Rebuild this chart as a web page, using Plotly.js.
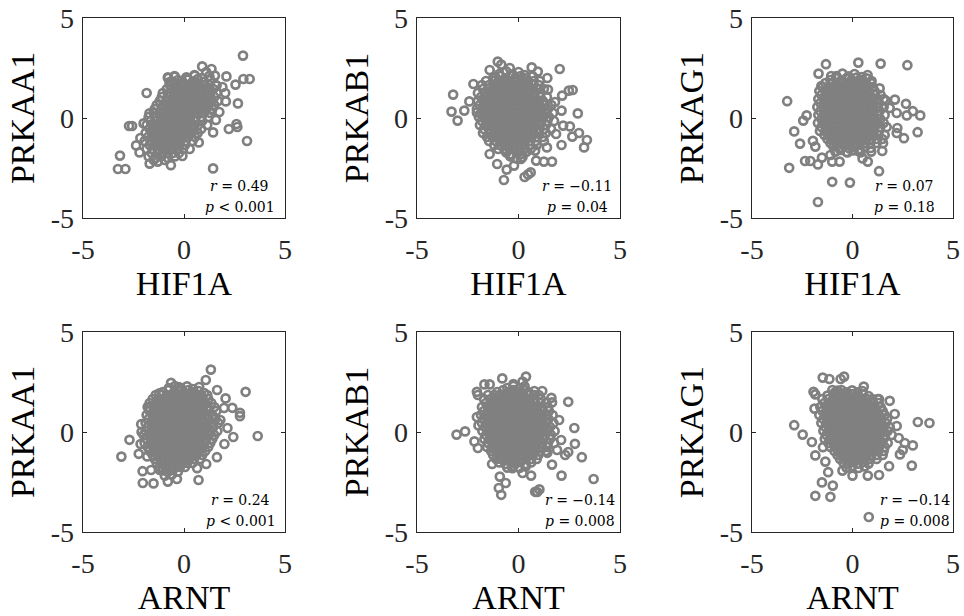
<!DOCTYPE html>
<html>
<head>
<meta charset="utf-8">
<script src="https://cdn.plot.ly/plotly-3.0.1.min.js"></script>
<style>html,body{margin:0;padding:0;background:#fff;}#chart{width:964px;height:616px;}</style>
</head>
<body>
<div id="chart"></div>
<script>
// Axis names per panel (row-major: top row HIF1A, bottom row ARNT)
const xNames = ['HIF1A', 'HIF1A', 'HIF1A', 'ARNT', 'ARNT', 'ARNT'];
const yNames = ['PRKAA1', 'PRKAB1', 'PRKAG1', 'PRKAA1', 'PRKAB1', 'PRKAG1'];
const rValues = ['0.49', '\u22120.11', '0.07', '0.24', '\u22120.14', '\u22120.14'];
const pValues = ['&lt; 0.001', '= 0.04', '= 0.18', '&lt; 0.001', '= 0.008', '= 0.008'];
const tickVals = [-5, 0, 5];
const tickText = ['-5', '0', '5'];

// Dense core of each cloud, read row by row: [y, x, x, ...]
const core1 = [
  [1.65, -0.7, -0.45, -0.2, 0.04, 0.28, 0.52, 0.76, 1.0, 1.25, 1.58],
  [1.45, -0.85, -0.52, -0.28, -0.03, 0.21, 0.45, 0.69, 0.93, 1.17, 1.45],
  [1.25, -1.05, -0.66, -0.4, -0.16, 0.08, 0.32, 0.56, 0.8, 1.04, 1.28, 1.62],
  [1.05, -1.1, -0.8, -0.52, -0.28, -0.04, 0.2, 0.44, 0.68, 0.92, 1.16, 1.5],
  [0.85, -1.2, -0.86, -0.62, -0.38, -0.14, 0.1, 0.34, 0.58, 0.82, 1.06, 1.32, 1.68],
  [0.65, -1.35, -1.0, -0.74, -0.5, -0.26, -0.02, 0.22, 0.46, 0.7, 0.94, 1.22, 1.5],
  [0.45, -1.45, -1.1, -0.85, -0.61, -0.37, -0.13, 0.11, 0.35, 0.59, 0.83, 1.1, 1.4],
  [0.25, -1.5, -1.22, -0.98, -0.74, -0.5, -0.26, -0.02, 0.22, 0.46, 0.7, 0.98, 1.3],
  [0.05, -1.75, -1.38, -1.12, -0.88, -0.64, -0.4, -0.16, 0.08, 0.32, 0.56, 0.85, 1.2],
  [-0.15, -1.65, -1.4, -1.16, -0.92, -0.68, -0.44, -0.2, 0.04, 0.28, 0.55, 0.9],
  [-0.35, -1.85, -1.55, -1.28, -1.04, -0.8, -0.56, -0.32, -0.08, 0.16, 0.4, 0.7, 1.15],
  [-0.55, -1.7, -1.46, -1.22, -0.98, -0.74, -0.5, -0.26, -0.02, 0.22, 0.5, 0.85],
  [-0.75, -1.9, -1.58, -1.34, -1.1, -0.86, -0.62, -0.38, -0.14, 0.1, 0.36, 0.68],
  [-0.95, -1.78, -1.5, -1.26, -1.02, -0.78, -0.54, -0.3, -0.06, 0.2, 0.55],
  [-1.15, -1.95, -1.62, -1.38, -1.14, -0.9, -0.66, -0.42, -0.18, 0.08, 0.42],
  [-1.35, -1.7, -1.44, -1.2, -0.96, -0.72, -0.48, -0.24, 0.05],
  [-1.55, -1.85, -1.55, -1.3, -1.06, -0.82, -0.58, -0.32, -0.05],
  [-1.75, -1.6, -1.3, -1.05, -0.8, -0.55, -0.25]
];
// Scattered points around the core: [x, y]
const outer1 = [
  [-0.78, 2.0], [-0.47, 2.1], [0.12, 2.0], [0.52, 2.15], [0.88, 2.0], [1.25, 2.1],
  [-0.6, 1.82], [-0.3, 1.9], [-0.05, 1.78], [0.2, 1.92], [0.45, 1.83], [0.68, 1.95], [0.95, 1.8], [1.3, 1.9],
  [-1.75, -1.92], [-1.4, -2.0], [-1.1, -1.9], [-0.8, -2.0], [-0.45, -1.92], [-1.3, -2.18], [-0.95, -2.1],
  [2.92, 3.12], [0.9, 2.58], [1.36, 2.45], [2.1, 2.08], [2.94, 1.95], [3.25, 1.95], [2.55, 1.67],
  [-1.85, 1.25], [2.04, 1.25], [2.67, 0.73], [2.07, 0.83], [1.58, -0.1], [2.6, -0.3], [2.64, -0.45],
  [2.22, -0.55], [1.44, -0.72], [3.12, -1.15], [-2.57, -0.4], [-2.72, -0.4], [-2.0, -0.27],
  [-1.71, 0.23], [-2.16, -1.0], [-2.37, -1.37], [-2.2, -1.72], [-3.17, -1.88], [-3.27, -2.55],
  [-2.9, -2.55], [-1.7, -2.28], [-0.65, -2.36], [-0.08, -1.9], [0.28, -1.55], [0.73, -1.22],
  [1.44, -2.52], [-0.8, 2.03], [-0.46, 2.07], [-0.72, 1.8], [0.12, 2.03], [0.53, 2.12],
  [1.53, 2.12], [1.61, 1.62], [1.1, 2.3], [1.9, 1.55], [1.75, 0.3], [-1.5, -2.1]
];

const core2 = [
  [1.85, -1.6, -1.22, -0.98, -0.74, -0.5, -0.26, -0.02, 0.22, 0.46, 0.75, 1.05],
  [1.65, -1.8, -1.45, -1.2, -0.96, -0.72, -0.48, -0.24, 0.0, 0.24, 0.48, 0.72, 1.0],
  [1.45, -1.75, -1.5, -1.26, -1.02, -0.78, -0.54, -0.3, -0.06, 0.18, 0.42, 0.66, 0.92, 1.25],
  [1.25, -2.0, -1.62, -1.38, -1.14, -0.9, -0.66, -0.42, -0.18, 0.06, 0.3, 0.54, 0.78, 1.05],
  [1.05, -1.85, -1.6, -1.36, -1.12, -0.88, -0.64, -0.4, -0.16, 0.08, 0.32, 0.56, 0.8, 1.08, 1.4],
  [0.85, -2.0, -1.72, -1.48, -1.24, -1.0, -0.76, -0.52, -0.28, -0.04, 0.2, 0.44, 0.68, 0.92, 1.2],
  [0.65, -1.9, -1.62, -1.38, -1.14, -0.9, -0.66, -0.42, -0.18, 0.06, 0.3, 0.54, 0.78, 1.02, 1.3, 1.62],
  [0.45, -2.05, -1.75, -1.5, -1.26, -1.02, -0.78, -0.54, -0.3, -0.06, 0.18, 0.42, 0.66, 0.9, 1.15, 1.45],
  [0.25, -1.85, -1.6, -1.36, -1.12, -0.88, -0.64, -0.4, -0.16, 0.08, 0.32, 0.56, 0.8, 1.04, 1.3, 1.7],
  [0.05, -1.95, -1.68, -1.44, -1.2, -0.96, -0.72, -0.48, -0.24, 0.0, 0.24, 0.48, 0.72, 0.96, 1.22, 1.5],
  [-0.15, -1.8, -1.55, -1.3, -1.06, -0.82, -0.58, -0.34, -0.1, 0.14, 0.38, 0.62, 0.86, 1.12, 1.42, 1.75],
  [-0.35, -1.9, -1.6, -1.36, -1.12, -0.88, -0.64, -0.4, -0.16, 0.08, 0.32, 0.56, 0.8, 1.05, 1.35],
  [-0.55, -1.7, -1.45, -1.21, -0.97, -0.73, -0.49, -0.25, -0.01, 0.23, 0.47, 0.71, 0.97, 1.25, 1.6],
  [-0.75, -1.75, -1.42, -1.18, -0.94, -0.7, -0.46, -0.22, 0.02, 0.26, 0.5, 0.74, 1.0, 1.35],
  [-0.95, -1.55, -1.28, -1.04, -0.8, -0.56, -0.32, -0.08, 0.16, 0.4, 0.64, 0.9, 1.2],
  [-1.15, -1.45, -1.12, -0.88, -0.64, -0.4, -0.16, 0.08, 0.32, 0.56, 0.85, 1.25],
  [-1.35, -1.2, -0.92, -0.68, -0.44, -0.2, 0.04, 0.28, 0.55, 0.9],
  [-1.55, -1.0, -0.7, -0.45, -0.2, 0.05, 0.3, 0.6]
];
const outer2 = [
  [-0.95, 2.2], [-0.6, 2.32], [-0.3, 2.18], [0.0, 2.3], [0.3, 2.15],
  [-1.25, 2.0], [-0.9, 2.1], [-0.65, 1.98], [-0.4, 2.12], [-0.15, 2.02], [0.1, 2.1], [0.38, 1.98], [0.7, 2.08],
  [-0.6, -1.72], [-0.35, -1.82], [-0.1, -1.7], [0.15, -1.8], [0.4, -1.68],
  [-0.4, -1.92], [-0.1, -2.02], [0.2, -1.95],
  [-3.22, 1.17], [-3.3, 0.32], [-3.0, -0.13], [-2.67, 0.37], [-2.42, 0.83], [-2.22, 1.7],
  [-2.05, 0.28], [-1.42, 2.4], [-1.02, 2.82], [-0.85, 2.67], [-0.43, 2.5], [-1.13, 2.03],
  [0.65, 2.53], [0.95, 2.32], [1.42, 2.0], [2.03, 2.45], [1.45, 1.42], [2.15, 1.12],
  [2.48, 1.37], [2.67, 1.4], [2.12, 0.37], [2.92, 0.23], [2.2, -0.38], [2.53, -0.42],
  [2.98, -0.75], [2.65, -0.93], [3.37, -1.1], [3.23, -1.47], [2.12, -1.35], [1.4, -1.47],
  [0.82, -1.63], [0.87, -2.13], [1.25, -2.18], [1.65, -2.18], [-1.42, -1.8], [-1.05, -2.3],
  [-0.58, -2.58], [-0.22, -2.38], [0.12, -2.05], [0.3, -2.95], [0.47, -2.82], [0.6, -2.72],
  [-0.72, -3.1], [-0.63, -1.63], [1.8, 0.8], [1.85, -0.8]
];

const core3 = [
  [1.75, -1.35, -1.05, -0.8, -0.56, -0.32, -0.08, 0.16, 0.4, 0.64, 0.92],
  [1.55, -1.5, -1.2, -0.96, -0.72, -0.48, -0.24, 0.0, 0.24, 0.48, 0.72, 1.0],
  [1.35, -1.65, -1.35, -1.1, -0.86, -0.62, -0.38, -0.14, 0.1, 0.34, 0.58, 0.82, 1.1],
  [1.15, -1.55, -1.3, -1.06, -0.82, -0.58, -0.34, -0.1, 0.14, 0.38, 0.62, 0.86, 1.12, 1.4],
  [0.95, -1.7, -1.42, -1.18, -0.94, -0.7, -0.46, -0.22, 0.02, 0.26, 0.5, 0.74, 0.98, 1.25, 1.55],
  [0.75, -1.6, -1.35, -1.1, -0.86, -0.62, -0.38, -0.14, 0.1, 0.34, 0.58, 0.82, 1.06, 1.32],
  [0.55, -1.75, -1.45, -1.2, -0.96, -0.72, -0.48, -0.24, 0.0, 0.24, 0.48, 0.72, 0.96, 1.22, 1.55],
  [0.35, -1.6, -1.35, -1.1, -0.86, -0.62, -0.38, -0.14, 0.1, 0.34, 0.58, 0.82, 1.06, 1.35],
  [0.15, -1.7, -1.42, -1.18, -0.94, -0.7, -0.46, -0.22, 0.02, 0.26, 0.5, 0.74, 0.98, 1.25, 1.6],
  [-0.05, -1.55, -1.3, -1.06, -0.82, -0.58, -0.34, -0.1, 0.14, 0.38, 0.62, 0.86, 1.1, 1.38],
  [-0.25, -1.72, -1.42, -1.18, -0.94, -0.7, -0.46, -0.22, 0.02, 0.26, 0.5, 0.74, 0.98, 1.24, 1.55],
  [-0.45, -1.55, -1.3, -1.06, -0.82, -0.58, -0.34, -0.1, 0.14, 0.38, 0.62, 0.86, 1.1, 1.38, 1.7],
  [-0.65, -1.62, -1.35, -1.1, -0.86, -0.62, -0.38, -0.14, 0.1, 0.34, 0.58, 0.82, 1.06, 1.32],
  [-0.85, -1.4, -1.15, -0.9, -0.66, -0.42, -0.18, 0.06, 0.3, 0.54, 0.78, 1.02, 1.28, 1.6],
  [-1.05, -1.25, -1.0, -0.75, -0.51, -0.27, -0.03, 0.21, 0.45, 0.69, 0.93, 1.2, 1.48],
  [-1.25, -1.1, -0.82, -0.58, -0.34, -0.1, 0.14, 0.38, 0.62, 0.88, 1.2]
];
const outer3 = [
  [-0.8, 2.1], [-0.5, 2.22], [-0.2, 2.08], [0.1, 2.2], [0.45, 2.05], [0.75, 2.15],
  [-1.1, 1.9], [-0.8, 2.0], [-0.55, 1.88], [-0.3, 1.98], [-0.05, 1.9], [0.2, 2.02], [0.45, 1.9], [0.7, 1.98], [0.95, 1.85],
  [-0.95, -1.42], [-0.65, -1.5], [-0.4, -1.4], [-0.15, -1.52], [0.1, -1.42], [0.35, -1.55], [0.6, -1.45], [0.9, -1.5],
  [-0.85, -1.68], [-0.6, -1.6], [-0.3, -1.7], [0.05, -1.62], [0.4, -1.72],
  [-1.32, 2.69], [0.29, 2.77], [1.4, 2.72], [2.73, 2.64], [-1.69, 2.22], [-1.06, 2.1],
  [-1.55, 1.6], [-3.25, 0.84], [-2.28, 0.13], [-2.45, -0.13], [-2.9, -0.67], [-2.61, -1.28],
  [-1.97, -1.14], [-1.85, -1.43], [-3.15, -2.49], [-2.36, -2.15], [-2.1, -2.15], [-1.72, -2.32],
  [-1.52, -1.98], [-1.01, -2.18], [-0.64, -2.18], [-1.01, -3.19], [-0.13, -3.23], [-1.72, -4.2],
  [1.32, -2.66], [1.48, -1.65], [0.5, -2.02], [0.76, -2.18], [0.93, -1.68], [1.52, -1.26],
  [2.56, -1.01], [3.24, -0.71], [2.23, -0.5], [3.37, 0.13], [3.0, 0.34], [2.66, 0.71],
  [2.7, 0.13], [2.11, 0.92], [1.65, 0.87], [1.35, 1.48], [1.85, 0.5], [2.2, 0.25],
  [0.3, -1.65], [-0.25, -1.72], [-1.1, -1.85], [2.2, -0.75]
];

const core4 = [
  [1.85, -1.4, -1.1, -0.85, -0.61, -0.37, -0.13, 0.11, 0.35, 0.59, 0.85, 1.15],
  [1.65, -1.55, -1.25, -1.0, -0.76, -0.52, -0.28, -0.04, 0.2, 0.44, 0.68, 0.92, 1.2],
  [1.45, -1.7, -1.4, -1.15, -0.91, -0.67, -0.43, -0.19, 0.05, 0.29, 0.53, 0.77, 1.02, 1.35],
  [1.25, -1.8, -1.5, -1.26, -1.02, -0.78, -0.54, -0.3, -0.06, 0.18, 0.42, 0.66, 0.9, 1.16, 1.5],
  [1.05, -1.7, -1.45, -1.2, -0.96, -0.72, -0.48, -0.24, 0.0, 0.24, 0.48, 0.72, 0.96, 1.22, 1.6],
  [0.85, -1.85, -1.55, -1.3, -1.06, -0.82, -0.58, -0.34, -0.1, 0.14, 0.38, 0.62, 0.86, 1.1, 1.4],
  [0.65, -1.75, -1.48, -1.24, -1.0, -0.76, -0.52, -0.28, -0.04, 0.2, 0.44, 0.68, 0.92, 1.18, 1.55],
  [0.45, -1.9, -1.6, -1.35, -1.11, -0.87, -0.63, -0.39, -0.15, 0.09, 0.33, 0.57, 0.81, 1.05, 1.3, 1.7],
  [0.25, -1.78, -1.5, -1.26, -1.02, -0.78, -0.54, -0.3, -0.06, 0.18, 0.42, 0.66, 0.9, 1.15, 1.45],
  [0.05, -1.9, -1.62, -1.38, -1.14, -0.9, -0.66, -0.42, -0.18, 0.06, 0.3, 0.54, 0.78, 1.02, 1.3, 1.65],
  [-0.15, -2.0, -1.72, -1.46, -1.22, -0.98, -0.74, -0.5, -0.26, -0.02, 0.22, 0.46, 0.7, 0.95, 1.22, 1.5],
  [-0.35, -1.85, -1.58, -1.34, -1.1, -0.86, -0.62, -0.38, -0.14, 0.1, 0.34, 0.58, 0.82, 1.08, 1.4],
  [-0.55, -1.95, -1.65, -1.4, -1.16, -0.92, -0.68, -0.44, -0.2, 0.04, 0.28, 0.52, 0.76, 1.0, 1.3],
  [-0.75, -1.8, -1.52, -1.28, -1.04, -0.8, -0.56, -0.32, -0.08, 0.16, 0.4, 0.64, 0.9, 1.2],
  [-0.95, -1.7, -1.42, -1.18, -0.94, -0.7, -0.46, -0.22, 0.02, 0.26, 0.5, 0.75, 1.05],
  [-1.15, -1.55, -1.3, -1.06, -0.82, -0.58, -0.34, -0.1, 0.14, 0.38, 0.62, 0.9],
  [-1.35, -1.45, -1.18, -0.94, -0.7, -0.46, -0.22, 0.02, 0.26, 0.5, 0.8],
  [-1.55, -1.35, -1.05, -0.8, -0.56, -0.32, -0.08, 0.16, 0.42],
  [-1.75, -1.2, -0.92, -0.68, -0.44, -0.2, 0.05]
];
const outer4 = [
  [-0.75, 2.2], [-0.45, 2.3], [-0.15, 2.18], [0.15, 2.28], [0.45, 2.15], [0.75, 2.25],
  [-1.05, 2.0], [-0.75, 2.1], [-0.5, 1.98], [-0.26, 2.08], [-0.02, 2.0], [0.22, 2.1], [0.46, 1.98], [0.72, 2.05], [1.0, 1.95],
  [-1.05, -1.92], [-0.8, -2.0], [-0.55, -1.9], [-0.3, -1.98], [-0.95, -2.18], [-0.6, -2.12],
  [1.33, 3.12], [1.08, 2.6], [-0.64, 2.46], [3.05, 2.01], [1.64, 2.1], [2.06, 1.68],
  [2.39, 1.21], [2.77, 0.96], [2.77, 0.79], [1.98, 1.2], [3.65, -0.2], [2.44, -0.25],
  [2.15, 0.2], [-2.7, -0.39], [-3.1, -1.23], [-2.12, 0.39], [-2.24, -1.09], [-1.82, -1.22],
  [-2.05, -1.96], [-2.04, -2.55], [-1.51, -2.57], [-1.63, -1.9], [-1.2, -1.9], [-0.8, -2.48],
  [-0.35, -2.35], [0.72, -2.4], [0.65, -1.81], [1.63, -1.26], [1.1, -1.6], [-1.22, 1.93],
  [-1.73, 1.21], [2.0, -0.6], [-0.25, 2.25], [-2.1, 0.0], [1.8, 0.6], [-2.15, -0.6]
];

const core5 = [
  [1.85, -1.5, -1.2, -0.95, -0.71, -0.47, -0.23, 0.01, 0.25, 0.5, 0.78, 1.0],
  [1.65, -1.7, -1.38, -1.14, -0.9, -0.66, -0.42, -0.18, 0.06, 0.3, 0.54, 0.8, 1.1],
  [1.45, -1.6, -1.35, -1.11, -0.87, -0.63, -0.39, -0.15, 0.09, 0.33, 0.57, 0.81, 1.08, 1.35],
  [1.25, -1.8, -1.5, -1.26, -1.02, -0.78, -0.54, -0.3, -0.06, 0.18, 0.42, 0.66, 0.9, 1.15, 1.45],
  [1.05, -1.7, -1.45, -1.21, -0.97, -0.73, -0.49, -0.25, -0.01, 0.23, 0.47, 0.71, 0.95, 1.2, 1.5],
  [0.85, -1.85, -1.56, -1.32, -1.08, -0.84, -0.6, -0.36, -0.12, 0.12, 0.36, 0.6, 0.84, 1.08, 1.35, 1.68],
  [0.65, -1.7, -1.45, -1.21, -0.97, -0.73, -0.49, -0.25, -0.01, 0.23, 0.47, 0.71, 0.95, 1.2, 1.48],
  [0.45, -1.8, -1.55, -1.3, -1.06, -0.82, -0.58, -0.34, -0.1, 0.14, 0.38, 0.62, 0.86, 1.1, 1.36, 1.72],
  [0.25, -1.65, -1.4, -1.16, -0.92, -0.68, -0.44, -0.2, 0.04, 0.28, 0.52, 0.76, 1.0, 1.25, 1.55],
  [0.05, -1.78, -1.5, -1.26, -1.02, -0.78, -0.54, -0.3, -0.06, 0.18, 0.42, 0.66, 0.9, 1.14, 1.4, 1.78],
  [-0.15, -1.6, -1.35, -1.11, -0.87, -0.63, -0.39, -0.15, 0.09, 0.33, 0.57, 0.81, 1.05, 1.3, 1.6],
  [-0.35, -1.68, -1.42, -1.18, -0.94, -0.7, -0.46, -0.22, 0.02, 0.26, 0.5, 0.74, 0.98, 1.24, 1.55],
  [-0.55, -1.5, -1.25, -1.01, -0.77, -0.53, -0.29, -0.05, 0.19, 0.43, 0.67, 0.91, 1.16, 1.45, 1.75],
  [-0.75, -1.55, -1.3, -1.06, -0.82, -0.58, -0.34, -0.1, 0.14, 0.38, 0.62, 0.86, 1.12, 1.4],
  [-0.95, -1.35, -1.1, -0.86, -0.62, -0.38, -0.14, 0.1, 0.34, 0.58, 0.82, 1.08, 1.35],
  [-1.15, -1.25, -0.98, -0.74, -0.5, -0.26, -0.02, 0.22, 0.46, 0.7, 0.98],
  [-1.35, -1.1, -0.85, -0.6, -0.36, -0.12, 0.12, 0.36, 0.62, 0.9]
];
const outer5 = [
  [-0.55, 2.2], [-0.25, 2.3], [0.05, 2.18], [0.3, 2.28],
  [-1.05, 2.0], [-0.75, 2.1], [-0.5, 1.98], [-0.25, 2.1], [0.0, 2.0], [0.25, 2.12], [0.5, 1.98], [0.78, 2.05],
  [-0.95, -1.52], [-0.65, -1.6], [-0.4, -1.5], [-0.15, -1.58], [0.1, -1.5], [0.35, -1.6], [0.62, -1.52],
  [-0.55, -1.78], [-0.25, -1.7], [0.05, -1.8], [0.35, -1.72],
  [0.37, 2.77], [-0.8, 2.68], [-1.68, 2.38], [-1.42, 2.38], [-2.05, 2.01], [-2.0, 1.85],
  [0.2, 2.52], [-0.25, 2.4], [1.17, 2.05], [1.62, 1.71], [1.65, 1.48], [2.45, 1.51],
  [2.75, 0.2], [2.78, -0.59], [2.45, -1.0], [2.3, -1.15], [3.12, -1.26], [3.7, -2.35],
  [2.12, -2.18], [1.65, -1.63], [1.42, -1.04], [-3.05, -0.13], [-2.63, 0.03], [-2.17, -0.47],
  [-2.0, -0.8], [-2.05, 0.75], [-1.97, 0.33], [-0.92, -2.23], [-0.63, -2.55], [-0.97, -2.8],
  [-0.85, -3.14], [0.82, -2.99], [1.03, -2.87], [0.92, -3.0], [-0.3, -1.81], [0.2, -2.05],
  [0.62, -2.18], [-1.3, -1.6], [2.1, -0.4], [2.0, 0.6], [1.9, -0.9]
];

const core6 = [
  [1.65, -1.5, -1.2, -0.96, -0.72, -0.48, -0.24, 0.0, 0.24, 0.48, 0.72, 0.98, 1.25],
  [1.45, -1.4, -1.15, -0.91, -0.67, -0.43, -0.19, 0.05, 0.29, 0.53, 0.77, 1.02, 1.3],
  [1.25, -1.6, -1.3, -1.06, -0.82, -0.58, -0.34, -0.1, 0.14, 0.38, 0.62, 0.86, 1.1, 1.4],
  [1.05, -1.5, -1.22, -0.98, -0.74, -0.5, -0.26, -0.02, 0.22, 0.46, 0.7, 0.94, 1.2, 1.5],
  [0.85, -1.65, -1.36, -1.12, -0.88, -0.64, -0.4, -0.16, 0.08, 0.32, 0.56, 0.8, 1.04, 1.3, 1.6],
  [0.65, -1.45, -1.2, -0.96, -0.72, -0.48, -0.24, 0.0, 0.24, 0.48, 0.72, 0.96, 1.2, 1.45, 1.72],
  [0.45, -1.55, -1.28, -1.04, -0.8, -0.56, -0.32, -0.08, 0.16, 0.4, 0.64, 0.88, 1.12, 1.38, 1.65],
  [0.25, -1.35, -1.1, -0.86, -0.62, -0.38, -0.14, 0.1, 0.34, 0.58, 0.82, 1.06, 1.3, 1.55, 1.85],
  [0.05, -1.45, -1.18, -0.94, -0.7, -0.46, -0.22, 0.02, 0.26, 0.5, 0.74, 0.98, 1.22, 1.48, 1.75],
  [-0.15, -1.3, -1.05, -0.81, -0.57, -0.33, -0.09, 0.15, 0.39, 0.63, 0.87, 1.11, 1.36, 1.62, 1.95],
  [-0.35, -1.38, -1.12, -0.88, -0.64, -0.4, -0.16, 0.08, 0.32, 0.56, 0.8, 1.04, 1.28, 1.55],
  [-0.55, -1.2, -0.95, -0.71, -0.47, -0.23, 0.01, 0.25, 0.49, 0.73, 0.97, 1.21, 1.46, 1.75],
  [-0.75, -1.1, -0.84, -0.6, -0.36, -0.12, 0.12, 0.36, 0.6, 0.84, 1.08, 1.32, 1.6],
  [-0.95, -0.9, -0.65, -0.41, -0.17, 0.07, 0.31, 0.55, 0.79, 1.03, 1.28, 1.55],
  [-1.15, -0.75, -0.5, -0.26, -0.02, 0.22, 0.46, 0.7, 0.94, 1.2, 1.5],
  [-1.35, -0.62, -0.35, -0.11, 0.13, 0.37, 0.61, 0.88, 1.2]
];
const outer6 = [
  [-0.85, 2.0], [-0.55, 2.1], [-0.28, 1.98], [-0.02, 2.08], [0.25, 1.98], [0.5, 2.05],
  [-1.25, 1.82], [-0.95, 1.9], [-0.7, 1.8], [-0.46, 1.92], [-0.22, 1.82], [0.02, 1.9], [0.26, 1.8], [0.52, 1.9], [0.8, 1.8],
  [-0.45, -1.52], [-0.2, -1.6], [0.04, -1.5], [0.28, -1.58], [0.52, -1.5], [0.8, -1.58],
  [-0.3, -1.78], [0.0, -1.7], [0.3, -1.8], [0.6, -1.72],
  [-1.48, 2.72], [-1.15, 2.65], [-0.59, 2.65], [-0.42, 2.77], [-1.94, 2.01], [-1.85, 1.88],
  [0.56, 2.27], [-1.0, 2.1], [-0.75, 2.07], [1.32, 1.64], [1.85, 1.56], [-1.89, 1.17],
  [3.25, 0.5], [3.83, 0.45], [-2.9, 0.34], [-2.48, -0.13], [-2.02, -0.5], [-1.47, -0.76],
  [-1.85, -1.17], [-1.35, -1.48], [-1.21, -2.01], [-1.52, -2.52], [-0.98, -2.68], [-1.85, -3.19],
  [-1.1, -3.24], [0.81, -4.25], [2.95, -1.68], [3.0, -0.67], [2.36, -1.12], [1.82, -1.71],
  [1.32, -2.15], [0.76, -2.18], [0.0, -2.18], [-0.5, -1.93], [2.6, -0.55], [2.3, -0.3],
  [2.5, -0.9], [2.1, 0.9], [2.2, 0.3]
];

const cores = [core1, core2, core3, core4, core5, core6];
const outers = [outer1, outer2, outer3, outer4, outer5, outer6];

// ---- layout geometry (pixels of the 964x616 page) ----
const W = 964, H = 616;
const colPx = [[83, 285], [417, 620], [752, 953]];
const rowPx = [[18, 218], [332, 532]];
const annX = [2.76, 2.9, 2.61, 2.8, 3.05, 3.1];

const ink = '#262626';
const gray = '#808080';
const serif = 'Liberation Serif, Times New Roman, Times, serif';

const traces = [];
const layout = {
  width: W, height: H,
  margin: {l: 0, r: 0, t: 0, b: 0},
  paper_bgcolor: '#ffffff',
  plot_bgcolor: '#ffffff',
  showlegend: false,
  annotations: []
};

for (let i = 0; i < 6; i++) {
  const xs = [], ys = [];
  cores[i].forEach(row => {
    for (let k = 1; k < row.length; k++) { xs.push(row[k]); ys.push(row[0]); }
  });
  outers[i].forEach(pt => { xs.push(pt[0]); ys.push(pt[1]); });
  const sfx = i === 0 ? '' : String(i + 1);
  traces.push({
    type: 'scatter', mode: 'markers',
    x: xs, y: ys,
    xaxis: 'x' + sfx, yaxis: 'y' + sfx,
    marker: {symbol: 'circle-open', size: 8, color: gray, line: {width: 2.7, color: gray}},
    hoverinfo: 'skip'
  });
  const c = colPx[i % 3], r = rowPx[Math.floor(i / 3)];
  const common = {
    range: [-5, 5], tickmode: 'array', tickvals: tickVals, ticktext: tickText,
    ticks: 'inside', ticklen: 4, tickwidth: 1, tickcolor: ink,
    showline: true, mirror: 'ticks', linecolor: ink, linewidth: 1.3,
    showgrid: false, zeroline: false, fixedrange: true,
    tickfont: {family: serif, size: 28, color: ink}
  };
  layout['xaxis' + sfx] = Object.assign({}, common, {
    domain: [c[0] / W, c[1] / W],
    anchor: 'y' + sfx,
    ticklabelstandoff: 6,
    title: {text: xNames[i], font: {family: serif, size: 34, color: '#000'}, standoff: 6}
  });
  layout['yaxis' + sfx] = Object.assign({}, common, {
    domain: [1 - r[1] / H, 1 - r[0] / H],
    anchor: 'x' + sfx,
    ticklabelstandoff: 2,
    title: {text: yNames[i], font: {family: serif, size: 34, color: '#000'}, standoff: 6}
  });
  const annFont = {family: 'DejaVu Serif, serif', size: 14, color: '#000'};
  layout.annotations.push({
    xref: 'x' + sfx, yref: 'y' + sfx, x: annX[i], y: -3.4,
    text: '<i>r</i> = ' + rValues[i], showarrow: false,
    xanchor: 'center', yanchor: 'middle', font: annFont
  });
  layout.annotations.push({
    xref: 'x' + sfx, yref: 'y' + sfx, x: annX[i], y: -4.43,
    text: '<i>p</i> ' + pValues[i], showarrow: false,
    xanchor: 'center', yanchor: 'middle', font: annFont
  });
}

Plotly.newPlot('chart', traces, layout, {displayModeBar: false, staticPlot: true});
</script>
</body>
</html>
